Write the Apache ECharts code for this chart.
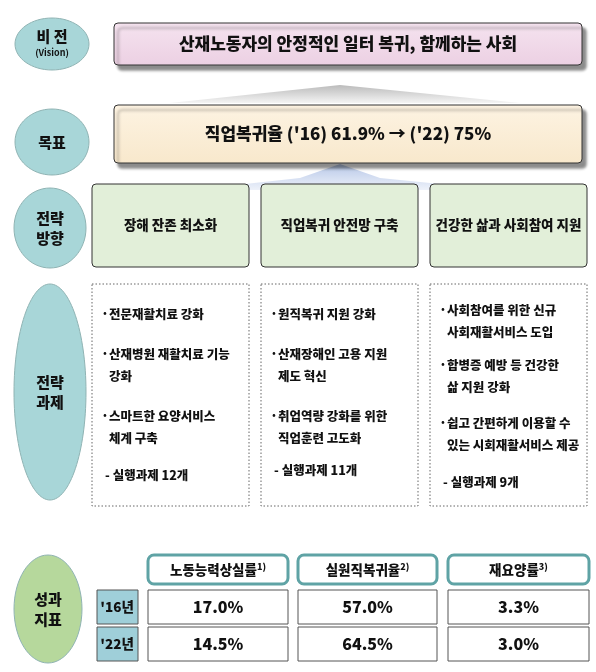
<!DOCTYPE html>
<html><head><meta charset="utf-8">
<script src="https://cdn.jsdelivr.net/npm/echarts@6/dist/echarts.min.js"></script>
<style>html,body{margin:0;padding:0;background:#fff}#c{width:596px;height:672px}</style>
</head><body><div id="c"></div>
<script>
const sideLabels = ["비 전", "목표", "전략\n방향", "전략\n과제", "성과\n지표"];
const visionText = "산재노동자의 안정적인 일터 복귀, 함께하는 사회";
const goalText = "직업복귀율 ('16) 61.9% → ('22) 75%";
const directions = ["장해 잔존 최소화", "직업복귀 안전망 구축", "건강한 삶과 사회참여 지원"];
const tasks1 = ["전문재활치료 강화", "산재병원 재활치료 기능\n강화", "스마트한 요양서비스\n체계 구축"];
const tasks2 = ["원직복귀 지원 강화", "산재장해인 고용 지원\n제도 혁신", "취업역량 강화를 위한\n직업훈련 고도화"];
const tasks3 = ["사회참여를 위한 신규\n사회재활서비스 도입", "합병증 예방 등 건강한\n삶 지원 강화", "쉽고 간편하게 이용할 수\n있는 시회재활서비스 제공"];
const taskCounts = ["- 실행과제 12개", "- 실행과제 11개", "- 실행과제 9개"];
const indicators = ["노동능력상실률", "실원직복귀율", "재요양률"];
const indicatorNotes = ["1)", "2)", "3)"];
const years = ["'16년", "'22년"];
const values2016 = ["17.0%", "57.0%", "3.3%"];
const values2022 = ["14.5%", "64.5%", "3.0%"];

const F = '"Noto Sans CJK KR", sans-serif';
const W = 900;
const g = [];
function ellipse(cx, cy, rx, ry, fill, label, fs) {
  g.push({type:'ellipse', shape:{cx, cy, rx, ry}, style:{fill, stroke:'#8fb3b3', lineWidth:1}});
  g.push({type:'text', x:cx, y:cy, style:{text:label, font:`${W} ${fs||15}px ${F}`, fill:'#111', align:'center', verticalAlign:'middle', lineHeight:20}});
}
function box(x, y, w, h, fill, opts) {
  opts = opts || {};
  g.push({type:'rect', shape:{x, y, width:w, height:h, r:opts.r==null?4:opts.r},
    style:Object.assign({fill, stroke:opts.stroke||'#333', lineWidth:opts.lw||1, lineDash:opts.dash||null,
      shadowColor:opts.shadow?'rgba(0,0,0,0.45)':'transparent', shadowBlur:opts.shadow?3:0, shadowOffsetX:opts.shadow?4:0, shadowOffsetY:opts.shadow?5:0})});
}
function text(x, y, t, fs, opts) {
  opts = opts || {};
  g.push({type:'text', x, y, style:{text:t, font:`${opts.w||W} ${fs}px ${F}`, fill:'#111', align:opts.align||'center', verticalAlign:opts.va||'middle', lineHeight:opts.lh||20}});
}

g.push({type:'polygon', shape:{points:[[170,103],[340,85],[520,103]]}, style:{fill:{type:'linear',x:0,y:0,x2:0,y2:1,colorStops:[{offset:0,color:'#bbbbbb'},{offset:1,color:'#f4f4f4'}]}}});
g.push({type:'polygon', shape:{points:[[190,190],[300,178],[340,164],[380,178],[500,190]]}, style:{fill:{type:'linear',x:0,y:0,x2:0,y2:1,colorStops:[{offset:0,color:'#b8c8e8'},{offset:1,color:'#eef2fa'}]}}});

ellipse(52, 44, 37, 26, '#a8d6d8', '', 15);
text(52, 36, sideLabels[0], 15);
text(52, 53, '(Vision)', 9, {w:700});
box(114, 23, 468, 42, {type:'linear',x:0,y:0,x2:0,y2:1,colorStops:[{offset:0,color:'#f5e3ef'},{offset:1,color:'#ecd0e3'}]}, {shadow:true});
text(348, 44, visionText, 17);

ellipse(52, 142, 37, 33, '#a8d6d8', sideLabels[1], 15);
box(114, 105, 468, 58, {type:'linear',x:0,y:0,x2:0,y2:1,colorStops:[{offset:0,color:'#fdf3e2'},{offset:1,color:'#f8e8cc'}]}, {shadow:true});
text(348, 134, goalText, 17);

ellipse(50, 228, 36, 40, '#a8d6d8', sideLabels[2], 15);
const colX = [92, 261, 430], colW = 157;
directions.forEach((d, i) => {
  box(colX[i], 184, colW, 83, '#e2efd9', {});
  text(colX[i] + colW/2, 225, d, 13.5);
});

ellipse(50, 392, 36, 108, '#a8d6d8', sideLabels[3], 15);
const taskCols = [tasks1, tasks2, tasks3];
const itemY = [[313, 353, 415], [313, 353, 415], [309, 364, 422]];
const countY = [475, 470, 482];
taskCols.forEach((items, i) => {
  box(colX[i], 284, colW, 222, '#fff', {r:0, dash:[1.5,2], stroke:'#666'});
  items.forEach((t, j) => {
    text(colX[i] + 9, itemY[i][j], '·', 13, {align:'left'});
    text(colX[i] + 17, itemY[i][j] - 10, t, 12.5, {align:'left', va:'top', lh:22});
  });
  text(colX[i] + 13, countY[i], taskCounts[i], 12.5, {align:'left'});
});

ellipse(48, 609, 34, 54, '#b6d89c', sideLabels[4], 15);
const cX = [148, 298, 448], cW = [140, 139, 141];
indicators.forEach((t, i) => {
  box(cX[i], 555, cW[i], 29, '#fff', {r:6, stroke:'#5fa3a5', lw:3});
  g.push({type:'text', x:cX[i] + cW[i]/2, y:570, style:{rich:{a:{font:`${W} 13.5px ${F}`, fill:'#111'}, b:{font:`${W} 9px ${F}`, fill:'#111', verticalAlign:'top', padding:[0,0,6,0]}}, text:`{a|${t}}{b|${indicatorNotes[i]}}`, align:'center', verticalAlign:'middle'}});
});
const rowY = [590, 627];
[values2016, values2022].forEach((vals, r) => {
  box(97, rowY[r], 41, 34, '#9fcfd9', {r:0, stroke:'#555'});
  text(117, rowY[r] + 17, years[r], 13.5);
  vals.forEach((v, i) => {
    box(cX[i], rowY[r], cW[i], 34, '#fff', {r:0, stroke:'#555'});
    text(cX[i] + cW[i]/2, rowY[r] + 17, v, 16);
  });
});

const chart = echarts.init(document.getElementById('c'));
chart.setOption({graphic: g});
</script></body></html>
